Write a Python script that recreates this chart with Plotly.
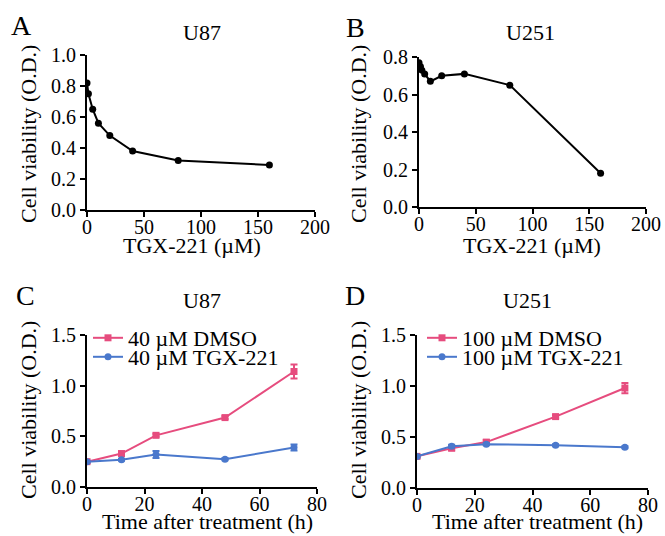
import plotly.graph_objects as go

# ---- data ----
conc_a = [0, 1.25, 5, 10, 20, 40, 80, 160]
via_a = [0.82, 0.75, 0.65, 0.56, 0.48, 0.38, 0.32, 0.29]

conc_b = [0, 1.25, 2.5, 5, 10, 20, 40, 80, 160]
via_b = [0.77, 0.75, 0.73, 0.71, 0.67, 0.70, 0.71, 0.65, 0.18]

time_h = [0, 12, 24, 48, 72]
c_dmso = [0.25, 0.33, 0.51, 0.685, 1.14]
c_dmso_err = [0.01, 0.02, 0.015, 0.015, 0.07]
c_tgx = [0.25, 0.27, 0.32, 0.275, 0.39]
c_tgx_err = [0.01, 0.01, 0.035, 0.01, 0.03]

d_dmso = [0.31, 0.39, 0.45, 0.70, 0.98]
d_dmso_err = [0.01, 0.02, 0.02, 0.015, 0.05]
d_tgx = [0.31, 0.41, 0.43, 0.42, 0.40]
d_tgx_err = [0.01, 0.015, 0.01, 0.01, 0.01]

panel_letters = ["A", "B", "C", "D"]
panel_titles = ["U87", "U251", "U87", "U251"]
x_titles = ["TGX-221 (µM)", "TGX-221 (µM)", "Time after treatment (h)", "Time after treatment (h)"]
y_title = "Cell viability (O.D.)"
legend_c = ["40 µM DMSO", "40 µM TGX-221"]
legend_d = ["100 µM DMSO", "100 µM TGX-221"]

PINK = "#E64C7E"
BLUE = "#4A78CC"
FONT = "Liberation Serif, Times New Roman, serif"

fig = go.Figure()

fig.add_trace(go.Scatter(x=conc_a, y=via_a, mode="lines+markers", xaxis="x", yaxis="y",
                         line=dict(color="black", width=2), marker=dict(color="black", size=7),
                         showlegend=False))
fig.add_trace(go.Scatter(x=conc_b, y=via_b, mode="lines+markers", xaxis="x2", yaxis="y2",
                         line=dict(color="black", width=2), marker=dict(color="black", size=7),
                         showlegend=False))


def add_series(x, y, err, color, symbol, name, xa, ya, leg):
    fig.add_trace(go.Scatter(x=x, y=y, mode="lines+markers", xaxis=xa, yaxis=ya,
                             name=name, legend=leg,
                             error_y=dict(type="data", array=err, color=color, thickness=2, width=3.5),
                             line=dict(color=color, width=2),
                             marker=dict(color=color, size=7, symbol=symbol)))


add_series(time_h, c_dmso, c_dmso_err, PINK, "square", legend_c[0], "x3", "y3", "legend")
add_series(time_h, c_tgx, c_tgx_err, BLUE, "circle", legend_c[1], "x3", "y3", "legend2")
add_series(time_h, d_dmso, d_dmso_err, PINK, "square", legend_d[0], "x4", "y4", "legend3")
add_series(time_h, d_tgx, d_tgx_err, BLUE, "circle", legend_d[1], "x4", "y4", "legend4")

W, H = 665, 536


def px(x):
    return x / W


def py(y):
    return 1 - y / H


common_axis = dict(showline=True, linecolor="black", linewidth=2, ticks="outside",
                   ticklen=5, tickwidth=2, tickcolor="black", showgrid=False, zeroline=False,
                   automargin=False,
                   tickfont=dict(family=FONT, size=20, color="black"), mirror=False)
x_common = dict(common_axis, ticklabelstandoff=-7)

layout = dict(
    template="none",
    width=W, height=H, margin=dict(l=0, r=0, t=0, b=0, pad=0, autoexpand=False),
    paper_bgcolor="white", plot_bgcolor="white",
    font=dict(family=FONT, color="black", size=20),
)

layout["xaxis"] = dict(x_common, domain=[px(87), px(315)], anchor="y", range=[0, 200],
                       tickvals=[0, 50, 100, 150, 200])
layout["xaxis2"] = dict(x_common, domain=[px(419), px(646)], anchor="y2", range=[0, 200],
                        tickvals=[0, 50, 100, 150, 200])
layout["xaxis3"] = dict(x_common, domain=[px(87), px(317)], anchor="y3", range=[0, 80],
                        tickvals=[0, 20, 40, 60, 80])
layout["xaxis4"] = dict(x_common, domain=[px(417), px(648)], anchor="y4", range=[0, 80],
                        tickvals=[0, 20, 40, 60, 80])
layout["yaxis"] = dict(common_axis, domain=[py(210), py(55)], anchor="x", range=[0, 1.0],
                       tickvals=[0, 0.2, 0.4, 0.6, 0.8, 1.0], tickformat=".1f")
layout["yaxis2"] = dict(common_axis, domain=[py(207), py(57)], anchor="x2", range=[0, 0.8],
                        tickvals=[0, 0.2, 0.4, 0.6, 0.8], tickformat=".1f")
layout["yaxis3"] = dict(common_axis, domain=[py(487), py(335)], anchor="x3", range=[0, 1.5],
                        tickvals=[0, 0.5, 1.0, 1.5], tickformat=".1f")
layout["yaxis4"] = dict(common_axis, domain=[py(488), py(335)], anchor="x4", range=[0, 1.5],
                        tickvals=[0, 0.5, 1.0, 1.5], tickformat=".1f")

legend_style = dict(font=dict(family=FONT, size=22, color="black"), bgcolor="rgba(0,0,0,0)",
                    borderwidth=0, itemwidth=30, xanchor="left", yanchor="middle")
layout["legend"] = dict(legend_style, x=px(88), y=py(338))
layout["legend2"] = dict(legend_style, x=px(88), y=py(357))
layout["legend3"] = dict(legend_style, x=px(422), y=py(338))
layout["legend4"] = dict(legend_style, x=px(422), y=py(357))

fig.update_layout(**layout)

letter_pos = [(21, 25), (355, 27), (25, 295), (355, 295)]
title_pos = [(202, 33), (530, 33), (202, 300), (527, 300)]
xtitle_pos = [(192, 245), (532, 245), (207, 521), (537, 521)]
ytitle_pos = [(28, 134), (358, 134), (28, 410), (358, 410)]
for i in range(4):
    for txt, (xx, yy), size, ang in [
        (panel_letters[i], letter_pos[i], 28, 0),
        (panel_titles[i], title_pos[i], 22, 0),
        (x_titles[i], xtitle_pos[i], 22, 0),
        (y_title, ytitle_pos[i], 22, -90),
    ]:
        fig.add_annotation(text=txt, x=px(xx), y=py(yy), xref="paper", yref="paper",
                           xanchor="center", yanchor="middle", showarrow=False, textangle=ang,
                           font=dict(family=FONT, size=size, color="black"))

fig.write_html("out.html", config={"displayModeBar": False},
               post_script="document.body.style.margin='0';document.body.style.padding='0';")
